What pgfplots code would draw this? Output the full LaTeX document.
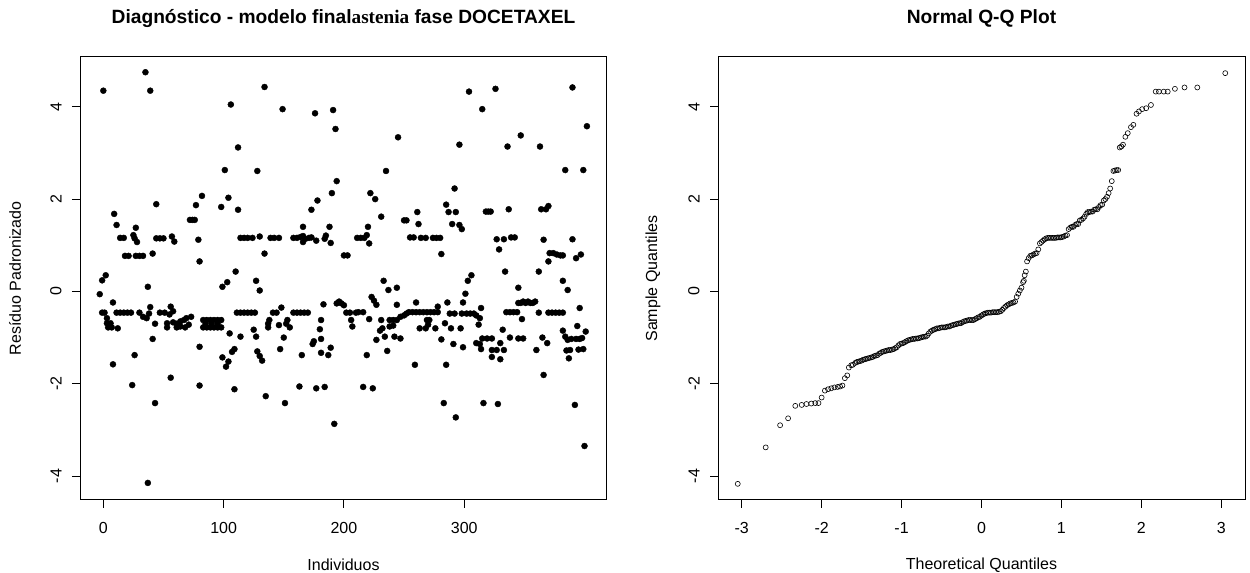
\documentclass[border=0pt]{standalone}
\usepackage{pgfplots}
\pgfplotsset{compat=1.18}
\usepackage{fontspec}
\setmainfont{Liberation Sans}
\newfontfamily\serifbf{Liberation Serif}

\pgfplotstableread{
x y
0 4.35
35 4.75
39 4.35
134 4.43
106 4.05
149 3.95
176 3.86
112 3.12
101 2.63
128 2.61
82 2.07
104 2.03
98 1.83
112 1.77
77 1.87
44 1.89
9 1.68
11 1.44
27 1.38
72 1.55
74 1.55
76 1.55
14 1.16
17 1.16
25 1.22
26 1.15
28 1.07
44 1.15
47 1.15
50 1.15
57 1.19
59 1.08
79 1.12
41 0.82
18 0.77
21 0.77
27 0.77
30 0.77
33 0.77
80 0.65
114 1.16
117 1.16
120 1.16
124 1.16
130 1.19
139 1.16
142 1.16
146 1.16
158 1.16
161 1.16
164 1.18
166 1.20
168 1.14
171 1.16
173 1.17
166 1.40
166 1.07
177 1.10
178 1.97
173 1.77
134 0.82
110 0.43
191 3.93
193 3.52
245 3.34
304 4.33
315 3.95
326 4.39
390 4.42
402 3.58
296 3.18
336 3.14
347 3.38
363 3.14
384 2.63
399 2.63
235 2.61
194 2.39
190 2.13
222 2.13
226 2.00
231 1.62
292 2.23
285 1.88
287 1.72
293 1.72
290 1.46
296 1.44
298 1.35
261 1.72
250 1.54
252 1.54
262 1.46
255 1.17
258 1.17
264 1.16
268 1.16
274 1.16
277 1.16
280 1.16
281 0.81
188 1.40
185 1.21
184 1.14
189 1.05
200 0.78
203 0.78
211 1.16
214 1.16
217 1.16
220 1.40
219 1.22
221 1.04
318 1.73
320 1.73
322 1.73
337 1.78
327 1.13
333 1.13
329 0.91
339 1.17
342 1.17
334 0.43
362 0.43
364 1.78
368 1.78
370 1.85
366 1.12
370 0.65
371 0.83
374 0.83
377 0.80
380 0.78
382 0.78
390 1.13
393 0.72
397 0.80
306 0.35
-3 -0.06
-1 0.24
2 0.35
37 0.10
99 0.10
103 0.20
127 0.23
130 0.02
233 0.23
237 0.03
244 0.08
303 0.23
301 -0.05
345 0.08
382 0.23
386 0.03
-1 -0.46
1 -0.46
3 -0.58
3 -0.69
6 -0.69
4 -0.78
7 -0.78
8 -0.24
11 -0.46
14 -0.46
17 -0.46
20 -0.46
23 -0.46
12 -0.80
8 -1.58
26 -1.38
24 -2.03
30 -0.46
33 -0.55
36 -0.58
38 -0.48
39 -0.34
43 -0.70
41 -1.03
43 -2.42
37 -4.15
47 -0.46
51 -0.46
55 -0.50
56 -0.33
58 -0.43
53 -0.69
53 -0.78
58 -0.67
61 -0.70
61 -0.78
64 -0.65
64 -0.76
67 -0.62
69 -0.58
73 -0.55
68 -0.78
71 -0.72
56 -1.87
80 -1.20
80 -2.04
83 -0.62
86 -0.62
89 -0.62
92 -0.62
95 -0.62
98 -0.62
83 -0.78
86 -0.78
89 -0.78
92 -0.78
95 -0.78
98 -0.78
85 -0.70
90 -0.70
95 -0.70
99 -1.43
102 -1.63
104 -1.52
105 -0.91
107 -1.31
109 -1.25
109 -2.12
114 -0.98
111 -0.46
114 -0.46
117 -0.46
120 -0.46
123 -0.46
126 -0.46
125 -0.83
127 -0.98
128 -1.30
130 -1.40
132 -1.50
135 -2.27
137 -0.70
138 -0.62
137 -0.78
141 -0.46
144 -0.46
146 -0.73
148 -0.35
153 -0.62
152 -0.70
155 -0.78
150 -1.00
147 -1.25
151 -2.42
158 -0.46
161 -0.46
164 -0.46
167 -0.46
170 -0.46
165 -1.38
163 -2.06
175 -1.08
174 -1.14
177 -2.10
181 -0.62
180 -0.82
181 -1.03
181 -1.33
183 -0.28
184 -2.07
187 -1.38
189 -1.22
192 -2.87
194 -0.26
196 -0.22
198 -0.26
200 -0.30
202 -0.46
205 -0.46
206 -0.62
207 -0.76
210 -0.46
212 -0.45
216 -0.45
221 -0.60
219 -1.38
216 -2.07
224 -2.10
223 -0.12
225 -0.20
227 -0.29
227 -1.05
230 -0.85
232 -0.80
231 -0.62
234 -0.98
236 -1.29
244 -0.29
238 -0.62
241 -0.62
244 -0.62
238 -0.76
241 -0.74
242 -0.98
247 -1.02
247 -0.55
250 -0.52
252 -0.48
254 -0.45
257 -0.45
260 -0.45
263 -0.45
266 -0.45
269 -0.45
272 -0.45
275 -0.45
278 -0.45
260 -0.24
259 -1.59
263 -0.80
269 -0.62
271 -0.62
270 -0.72
268 -0.80
276 -0.80
278 -0.33
281 -1.04
283 -2.42
285 -1.59
286 -0.24
284 -0.69
288 -0.48
289 -0.80
292 -0.48
291 -1.14
293 -2.73
297 -0.80
298 -0.48
299 -0.24
299 -1.21
302 -0.48
305 -0.48
308 -0.48
310 -0.52
310 -1.12
313 -1.14
312 -0.72
313 -0.58
314 -1.25
314 -0.36
315 -1.02
319 -1.02
323 -1.02
323 -1.27
327 -1.27
333 -1.27
323 -1.42
330 -1.47
316 -2.42
328 -2.44
330 -1.12
332 -0.83
335 -0.45
338 -0.45
341 -0.45
344 -0.45
338 -1.00
345 -1.02
349 -1.02
348 -0.60
345 -0.25
347 -0.25
349 -0.22
351 -0.25
353 -0.22
355 -0.25
357 -0.25
359 -0.22
362 -0.46
360 -1.27
366 -1.81
365 -1.00
369 -1.12
370 -0.46
373 -0.46
376 -0.46
379 -0.46
382 -0.46
382 -0.85
384 -0.98
386 -1.05
389 -1.03
393 -1.03
396 -1.03
385 -1.28
388 -1.27
395 -1.26
399 -1.25
387 -1.45
392 -2.46
394 -0.75
396 -0.36
398 -1.01
401 -0.87
400 -3.35
}\resid

\pgfplotstableread{
x y
-3.05 -4.17
-2.70 -3.38
-2.52 -2.90
-2.42 -2.75
-2.33 -2.48
-2.25 -2.46
-2.19 -2.44
-2.13 -2.43
-2.08 -2.42
-2.04 -2.42
-2.00 -2.30
-1.96 -2.15
-1.92 -2.12
-1.88 -2.10
-1.84 -2.08
-1.80 -2.07
-1.77 -2.06
-1.74 -2.04
-1.71 -1.88
-1.68 -1.82
-1.66 -1.65
-1.63 -1.60
-1.61 -1.59
-1.58 -1.55
-1.56 -1.53
-1.54 -1.52
-1.52 -1.51
-1.50 -1.50
-1.48 -1.48
-1.46 -1.47
-1.44 -1.46
-1.42 -1.45
-1.40 -1.44
-1.38 -1.43
-1.36 -1.42
-1.34 -1.40
-1.32 -1.39
-1.30 -1.38
-1.28 -1.35
-1.26 -1.33
-1.24 -1.31
-1.22 -1.30
-1.20 -1.29
-1.18 -1.28
-1.16 -1.27
-1.14 -1.27
-1.12 -1.26
-1.10 -1.25
-1.08 -1.23
-1.06 -1.21
-1.04 -1.17
-1.02 -1.14
-1.00 -1.13
-0.98 -1.12
-0.96 -1.10
-0.94 -1.08
-0.92 -1.06
-0.90 -1.05
-0.88 -1.04
-0.86 -1.03
-0.84 -1.03
-0.82 -1.02
-0.80 -1.02
-0.78 -1.01
-0.76 -1.00
-0.74 -0.99
-0.72 -0.98
-0.70 -0.98
-0.68 -0.96
-0.66 -0.91
-0.64 -0.87
-0.62 -0.85
-0.60 -0.83
-0.58 -0.82
-0.56 -0.80
-0.54 -0.80
-0.52 -0.79
-0.50 -0.78
-0.48 -0.78
-0.46 -0.78
-0.44 -0.77
-0.42 -0.76
-0.40 -0.76
-0.38 -0.74
-0.36 -0.73
-0.34 -0.72
-0.32 -0.71
-0.30 -0.70
-0.28 -0.69
-0.26 -0.69
-0.24 -0.67
-0.22 -0.65
-0.20 -0.64
-0.18 -0.63
-0.16 -0.62
-0.14 -0.62
-0.12 -0.62
-0.10 -0.62
-0.08 -0.60
-0.06 -0.58
-0.04 -0.56
-0.02 -0.55
0.00 -0.52
0.02 -0.50
0.04 -0.48
0.06 -0.47
0.08 -0.46
0.10 -0.46
0.12 -0.46
0.14 -0.45
0.16 -0.45
0.18 -0.45
0.20 -0.45
0.22 -0.44
0.24 -0.43
0.26 -0.40
0.28 -0.36
0.30 -0.33
0.32 -0.30
0.34 -0.28
0.36 -0.26
0.38 -0.25
0.40 -0.24
0.42 -0.22
0.44 -0.12
0.46 -0.05
0.48 0.02
0.50 0.08
0.52 0.20
0.53 0.23
0.54 0.35
0.555 0.43
0.57 0.65
0.59 0.72
0.61 0.77
0.63 0.78
0.65 0.80
0.67 0.82
0.69 0.83
0.71 0.91
0.73 1.04
0.75 1.07
0.77 1.10
0.79 1.13
0.81 1.15
0.83 1.16
0.85 1.16
0.87 1.16
0.89 1.16
0.91 1.16
0.93 1.16
0.95 1.17
0.97 1.17
0.99 1.17
1.01 1.18
1.03 1.19
1.05 1.21
1.07 1.22
1.09 1.35
1.11 1.38
1.13 1.40
1.15 1.40
1.17 1.44
1.19 1.46
1.21 1.46
1.23 1.54
1.25 1.55
1.27 1.58
1.29 1.62
1.31 1.68
1.33 1.72
1.35 1.72
1.37 1.73
1.39 1.73
1.41 1.77
1.43 1.78
1.45 1.78
1.47 1.83
1.49 1.87
1.51 1.88
1.53 1.97
1.55 2.00
1.57 2.05
1.59 2.13
1.61 2.23
1.63 2.39
1.65 2.61
1.67 2.62
1.69 2.63
1.71 2.63
1.73 3.12
1.75 3.14
1.77 3.18
1.80 3.35
1.83 3.43
1.87 3.56
1.90 3.61
1.94 3.85
1.97 3.90
2.01 3.95
2.06 3.97
2.12 4.04
2.18 4.33
2.22 4.33
2.28 4.33
2.33 4.33
2.42 4.39
2.54 4.42
2.70 4.42
3.05 4.73
}\qq

\begin{document}
\begin{tikzpicture}[x=1pt,y=1pt]
\path (0,0) rectangle (625,286.5);
\pgfplotsset{
  rstyle/.style={
    scale only axis, width=263.5pt, height=221.5pt,
    ymin=-4.52, ymax=5.08,
    axis line style={line width=0.5pt},
    tick align=outside, xtick pos=left, ytick pos=left,
    major tick length=4pt,
    every tick/.style={black, line width=0.5pt},
    ytick={-4,-2,0,2,4}, yticklabels={-4,-2,0,2,4},
    font=\fontsize{8}{9.6}\selectfont,
    ticklabel style={font=\fontsize{8}{9.6}\selectfont},
    yticklabel style={rotate=90, anchor=south, inner sep=0pt},
    xticklabel style={anchor=north, inner sep=0pt},
    xticklabel shift=7pt, yticklabel shift=5pt,
    xlabel style={at={(axis description cs:0.5,0)}, anchor=center, inner sep=0pt, yshift=-32.5pt, font=\fontsize{8}{9.6}\selectfont},
    ylabel style={at={(axis description cs:0,0.5)}, anchor=center, inner sep=0pt, yshift=32.5pt, font=\fontsize{8}{9.6}\selectfont},
    title style={at={(axis description cs:0.5,1)}, anchor=center, inner sep=0pt, yshift=13.5pt, font=\fontsize{9.6}{11}\selectfont\bfseries},
  }
}
\begin{axis}[rstyle, anchor=south west, at={(40pt,36.5pt)},
  xmin=-19.4, xmax=418.7,
  xtick={0,100,200,300}, xticklabels={0,100,200,300},
  title={Diagnóstico - modelo final{\serifbf\bfseries astenia} fase DOCETAXEL},
  xlabel={Individuos}, ylabel={Resíduo Padronizado}]
\addplot[only marks, mark=*, mark size=1.5pt, mark options={fill=black, draw=black, line width=0.2pt}] table[x=x,y=y] {\resid};
\end{axis}
\begin{axis}[rstyle, anchor=south west, at={(359pt,36.5pt)},
  xmin=-3.297, xmax=3.297,
  xtick={-3,-2,-1,0,1,2,3}, xticklabels={-3,-2,-1,0,1,2,3},
  title={Normal Q-Q Plot},
  xlabel={Theoretical Quantiles}, ylabel={Sample Quantiles}]
\addplot[only marks, mark=o, mark size=1.25pt, mark options={draw=black, line width=0.3pt}] table[x=x,y=y] {\qq};
\end{axis}
\end{tikzpicture}
\end{document}
